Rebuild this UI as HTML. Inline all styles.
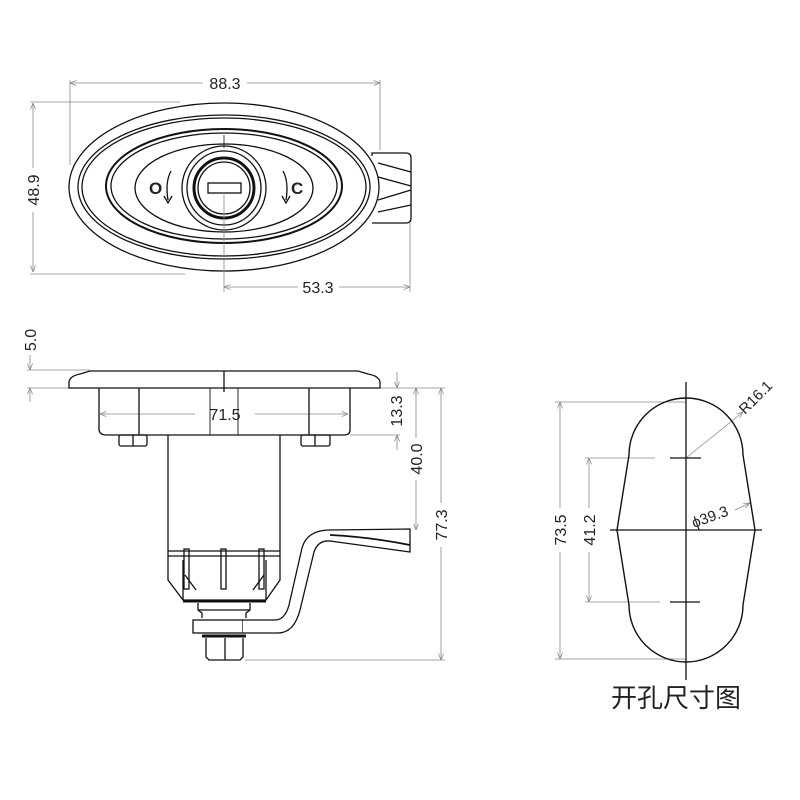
<!DOCTYPE html>
<html><head><meta charset="utf-8"><style>
body{margin:0;background:#fff}
svg{display:block}
text{font-family:"Liberation Sans",sans-serif;font-size:16px;fill:#222}
</style></head><body>
<svg width="800" height="800" viewBox="0 0 800 800" xmlns="http://www.w3.org/2000/svg">
<defs>
<marker id="a" viewBox="0 0 10 10" refX="10" refY="5" markerWidth="8" markerHeight="8" orient="auto-start-reverse"><path d="M0,1 L10,5 L0,9" fill="none" stroke="#777" stroke-width="1"/></marker>
</defs>
<g fill="none" stroke="#888" stroke-width="0.8">
<line x1="70" y1="83" x2="203" y2="83" marker-start="url(#a)"/><line x1="247" y1="83" x2="380" y2="83" marker-end="url(#a)"/>
<line x1="70" y1="80" x2="70" y2="165"/><line x1="380" y1="80" x2="380" y2="150"/>
<line x1="33" y1="103" x2="33" y2="168" marker-start="url(#a)"/><line x1="33" y1="212" x2="33" y2="272" marker-end="url(#a)"/>
<line x1="30" y1="102" x2="180" y2="102"/><line x1="30" y1="274" x2="185" y2="274"/>
<line x1="224" y1="287" x2="298" y2="287" marker-start="url(#a)"/><line x1="339" y1="287" x2="410" y2="287" marker-end="url(#a)"/>
<line x1="410" y1="223" x2="410" y2="292"/>
<line x1="30" y1="355" x2="30" y2="370" marker-end="url(#a)"/><line x1="30" y1="388" x2="30" y2="402" marker-start="url(#a)"/>
<line x1="27" y1="370" x2="90" y2="370"/><line x1="27" y1="388" x2="100" y2="388"/>
<line x1="100" y1="414" x2="195" y2="414" marker-start="url(#a)"/><line x1="255" y1="414" x2="348" y2="414" marker-end="url(#a)"/>
<line x1="397" y1="372" x2="397" y2="388" marker-end="url(#a)"/><line x1="397" y1="435" x2="397" y2="450" marker-start="url(#a)"/>
<line x1="350" y1="435" x2="400" y2="435"/>
<line x1="380" y1="388" x2="445" y2="388"/>
<line x1="416" y1="388" x2="416" y2="438" marker-start="url(#a)"/><line x1="416" y1="480" x2="416" y2="530" marker-end="url(#a)"/>
<line x1="441" y1="388" x2="441" y2="503" marker-start="url(#a)"/><line x1="441" y1="547" x2="441" y2="660" marker-end="url(#a)"/>
<line x1="245" y1="660" x2="445" y2="660"/>
<line x1="555" y1="402" x2="686" y2="402"/><line x1="555" y1="659" x2="686" y2="659"/>
<line x1="560" y1="402" x2="560" y2="508" marker-start="url(#a)"/><line x1="560" y1="552" x2="560" y2="659" marker-end="url(#a)"/>
<line x1="585" y1="458" x2="655" y2="458"/><line x1="585" y1="602" x2="660" y2="602"/>
<line x1="589" y1="458" x2="589" y2="508" marker-start="url(#a)"/><line x1="589" y1="552" x2="589" y2="602" marker-end="url(#a)"/>
<line x1="686" y1="458" x2="743" y2="412" marker-end="url(#a)"/>
<line x1="735" y1="510" x2="750" y2="503" marker-end="url(#a)"/>
</g>
<text x="225" y="89" text-anchor="middle">88.3</text>
<text transform="translate(39,190) rotate(-90)" text-anchor="middle">48.9</text>
<text x="318" y="293" text-anchor="middle">53.3</text>
<text transform="translate(36,340) rotate(-90)" text-anchor="middle">5.0</text>
<text x="225" y="420" text-anchor="middle">71.5</text>
<text transform="translate(402,411) rotate(-90)" text-anchor="middle">13.3</text>
<text transform="translate(422,459) rotate(-90)" text-anchor="middle">40.0</text>
<text transform="translate(447,525) rotate(-90)" text-anchor="middle">77.3</text>
<text transform="translate(566,530) rotate(-90)" text-anchor="middle">73.5</text>
<text transform="translate(595,530) rotate(-90)" text-anchor="middle">41.2</text>
<text transform="translate(745,415) rotate(-45)" style="font-size:15px">R16.1</text>
<text transform="translate(694,528) rotate(-20)" style="font-size:15px">ϕ39.3</text>
<text x="676" y="707" text-anchor="middle" style="font-family:'Liberation Sans','Noto Sans CJK SC',sans-serif;font-size:26px">开孔尺寸图</text>

<g fill="none" stroke="#111" stroke-width="1.3">
<path d="M372,156 L372,153 L406,153 Q411,153 411,158 L411,218 Q411,223 406,223 L372,223" />
<path d="M378,163 L411,172 M378,177 L411,186 M378,200 L411,190 M378,212 L411,205"/>
<ellipse cx="224" cy="187" rx="155" ry="84" fill="#fff"/>
<ellipse cx="224" cy="187" rx="146" ry="72"/>
<ellipse cx="224" cy="187" rx="142" ry="69"/>
<ellipse cx="224" cy="186" rx="118" ry="57" stroke-width="2"/>
<ellipse cx="224" cy="186" rx="113" ry="53"/>
<ellipse cx="224" cy="188" rx="89" ry="44"/>
<circle cx="224" cy="188" r="42"/>
<circle cx="224" cy="188" r="37"/>
<circle cx="224" cy="188" r="30" stroke-width="3"/>
<circle cx="224" cy="188" r="26"/>
<rect x="208" y="183" width="33" height="10"/>
<line x1="224" y1="135" x2="224" y2="148" stroke-width="0.8"/>
<line x1="224" y1="193" x2="224" y2="292" stroke="#888" stroke-width="0.8"/>
<path d="M171,171 Q165,182 168,200" /><path d="M164,196 L168,203 L172,196"/>
<path d="M283,171 Q289,182 286,200" /><path d="M282,196 L286,203 L290,196"/>
</g>
<text x="149" y="194" style="font-weight:bold;font-size:17px">O</text>
<text x="291" y="194" style="font-weight:bold;font-size:17px">C</text>

<g fill="none" stroke="#111" stroke-width="1.3">
<path d="M69,388 L69,382 Q70,376 80,374 L90,371 L358,371 L368,374 Q379,376 380,382 L380,388 Z" fill="#fff"/>
<path d="M99,388 L99,430 Q100,435 106,435 L344,435 Q350,435 350,430 L350,388"/>
<line x1="139" y1="388" x2="139" y2="435"/><line x1="309" y1="388" x2="309" y2="435"/>
<line x1="210" y1="388" x2="210" y2="435" stroke-width="0.9"/><line x1="238" y1="388" x2="238" y2="435" stroke-width="0.9"/>
<line x1="224" y1="371" x2="224" y2="392"/>
<rect x="119" y="435" width="28" height="11" rx="2"/><line x1="133" y1="435" x2="133" y2="446"/>
<rect x="301" y="435" width="29" height="11" rx="2"/><line x1="315" y1="435" x2="315" y2="446"/>
<path d="M168,435 L168,580 L183,600 L266,600 L280,580 L280,435"/>
<line x1="168" y1="551" x2="280" y2="551"/><line x1="168" y1="556" x2="280" y2="556"/>
<path d="M183,600 L183,560 M266,600 L266,560"/>
<rect x="184" y="549" width="5" height="40"/><rect x="221" y="549" width="5" height="40"/><rect x="259" y="549" width="5" height="40"/>
<path d="M185,575 L196,590 M264,575 L253,590"/>
<line x1="183" y1="601" x2="266" y2="601" stroke-width="3"/>
<path d="M198,603 L198,610 L202,613 L202,618 M250,603 L250,610 L246,613 L246,618 M198,610 L250,610"/>
<rect x="193" y="620" width="50" height="13" fill="#fff"/>
<line x1="202" y1="636" x2="246" y2="636" stroke-width="3"/>
<path d="M206,638 L206,657 L209,660 L240,660 L243,657 L243,638 M225,638 L225,660"/>
<path d="M243,620 L275,620 Q285,620 289,605 L302,548 Q307,530 330,530 L410,529 L410,552 L330,541 Q318,540 314,552 L300,610 Q294,633 278,633 L243,633" fill="#fff"/>
<path d="M330,535 Q370,537 410,545" stroke-width="1.8"/>
<path d="M629,455 A57,57 0 0 1 743,455 L755,530 L743,605 A57,57 0 0 1 629,605 L617,530 Z" stroke-width="1.4"/>
<line x1="686" y1="382" x2="686" y2="680"/>
<line x1="610" y1="530" x2="762" y2="530"/>
<line x1="670" y1="458" x2="701" y2="458"/>
<line x1="670" y1="602" x2="700" y2="602"/>
</g>
</svg>
</body></html>
